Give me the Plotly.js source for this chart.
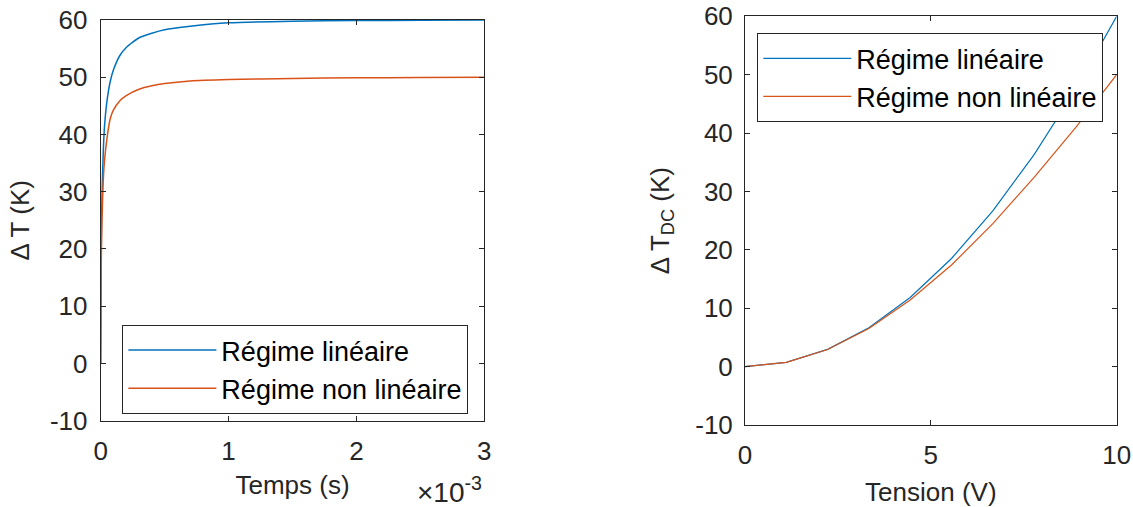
<!DOCTYPE html>
<html>
<head>
<meta charset="utf-8">
<script src="https://cdn.plot.ly/plotly-3.0.1.min.js"></script>
<style>html,body{margin:0;padding:0;background:#fff;}#chart{width:1133px;height:507px;}</style>
</head>
<body>
<div id="chart"></div>
<script>
// Left panel: temperature rise vs time (s)
const timeS = [0, 0.000002, 0.000005, 0.00001, 0.00002, 0.00003, 0.00005, 0.000075, 0.0001, 0.00015, 0.0002, 0.0003, 0.0004, 0.0005, 0.0007, 0.001, 0.0015, 0.002, 0.0025, 0.003];
const dTLinear = [0, 12, 22, 29, 37, 41.5, 46, 49.3, 51.3, 53.8, 55.2, 56.9, 57.7, 58.3, 58.9, 59.5, 59.8, 59.9, 59.95, 60];
const dTNonLinear = [0, 10, 19, 25, 32, 35.5, 39.5, 42.8, 44.3, 45.9, 46.8, 47.9, 48.5, 48.9, 49.35, 49.6, 49.8, 49.9, 49.95, 50];

// Right panel: DC temperature rise vs voltage (V)
const tensionV = [0, 1.111, 2.222, 3.333, 4.444, 5.556, 6.667, 7.778, 8.889, 10];
const dTdcLinear = [0, 0.74, 2.96, 6.67, 11.85, 18.52, 26.67, 36.3, 47.41, 60];
const dTdcNonLinear = [0, 0.74, 2.94, 6.52, 11.4, 17.4, 24.5, 32.4, 40.9, 50];

const seriesNames = ['Régime linéaire', 'Régime non linéaire'];
const timeTickVals = [0, 0.001, 0.002, 0.003];
const timeTickText = ['0', '1', '2', '3'];
const dTTickVals = [-10, 0, 10, 20, 30, 40, 50, 60];
const dTTickText = ['-10', '0', '10', '20', '30', '40', '50', '60'];
const tensionTickVals = [0, 5, 10];
const tensionTickText = ['0', '5', '10'];

const BLUE = '#0072BD', ORANGE = '#D95319', AX = '#262626';
const FONT = 'Liberation Sans, Arial, Helvetica, sans-serif';
const FS = 26;

const traces = [
  {x: timeS, y: dTLinear, name: seriesNames[0], type: 'scatter', mode: 'lines', line: {color: BLUE, width: 1.5, shape: 'spline', smoothing: 0.6}, xaxis: 'x', yaxis: 'y', legend: 'legend'},
  {x: timeS, y: dTNonLinear, name: seriesNames[1], type: 'scatter', mode: 'lines', line: {color: ORANGE, width: 1.5, shape: 'spline', smoothing: 0.6}, xaxis: 'x', yaxis: 'y', legend: 'legend'},
  {x: tensionV, y: dTdcLinear, name: seriesNames[0], type: 'scatter', mode: 'lines', line: {color: BLUE, width: 1.2}, xaxis: 'x2', yaxis: 'y2', legend: 'legend2'},
  {x: tensionV, y: dTdcNonLinear, name: seriesNames[1], type: 'scatter', mode: 'lines', line: {color: ORANGE, width: 1.2}, xaxis: 'x2', yaxis: 'y2', legend: 'legend2'}
];

const axCommon = {
  showline: true, linecolor: AX, linewidth: 1, mirror: 'ticks',
  ticks: 'inside', ticklen: 5, tickwidth: 1, tickcolor: AX,
  showgrid: false, zeroline: false,
  tickfont: {family: FONT, size: FS, color: AX}
};

const legCommon = {
  bgcolor: '#ffffff', bordercolor: AX, borderwidth: 1,
  font: {family: FONT, size: 27, color: '#000000'},
  xanchor: 'left', yanchor: 'top', itemwidth: 88, tracegroupgap: 0
};

const layout = {
  width: 1133, height: 507,
  margin: {l: 0, r: 0, t: 0, b: 0},
  paper_bgcolor: '#ffffff', plot_bgcolor: '#ffffff',
  font: {family: FONT, size: FS, color: AX},
  showlegend: true,
  xaxis: Object.assign({}, axCommon, {
    domain: [0.08888, 0.42745], anchor: 'y', range: [0, 0.003],
    tickvals: timeTickVals, ticktext: timeTickText, ticklabelstandoff: 7,
    title: {text: 'Temps (s)', font: {family: FONT, size: FS, color: AX}, standoff: 10}
  }),
  yaxis: Object.assign({}, axCommon, {
    domain: [0.17022, 0.96055], anchor: 'x', range: [-10, 60],
    tickvals: dTTickVals, ticktext: dTTickText, ticklabelstandoff: 7,
    title: {text: 'Δ T (K)', font: {family: FONT, size: FS, color: AX}, standoff: 12}
  }),
  xaxis2: Object.assign({}, axCommon, {
    domain: [0.65755, 0.98561], anchor: 'y2', range: [0, 10],
    tickvals: tensionTickVals, ticktext: tensionTickText, ticklabelstandoff: 7,
    title: {text: 'Tension (V)', font: {family: FONT, size: FS, color: AX}, standoff: 13}
  }),
  yaxis2: Object.assign({}, axCommon, {
    domain: [0.16174, 0.96785], anchor: 'x2', range: [-10, 60],
    tickvals: dTTickVals, ticktext: dTTickText, ticklabelstandoff: 6,
    title: {text: 'Δ T<sub>DC</sub> (K)', font: {family: FONT, size: FS, color: AX}, standoff: 18}
  }),
  legend: Object.assign({}, legCommon, {x: 0.108, y: 0.359}),
  legend2: Object.assign({}, legCommon, {x: 0.6684, y: 0.9343}),
  annotations: [
    {xref: 'paper', yref: 'paper', x: 0.4275, y: -0.006, xanchor: 'right', yanchor: 'bottom',
     text: '×10<sup>-3</sup>', showarrow: false, font: {family: FONT, size: 28, color: AX}}
  ]
};

Plotly.newPlot('chart', traces, layout, {displayModeBar: false, staticPlot: true});
</script>
</body>
</html>
